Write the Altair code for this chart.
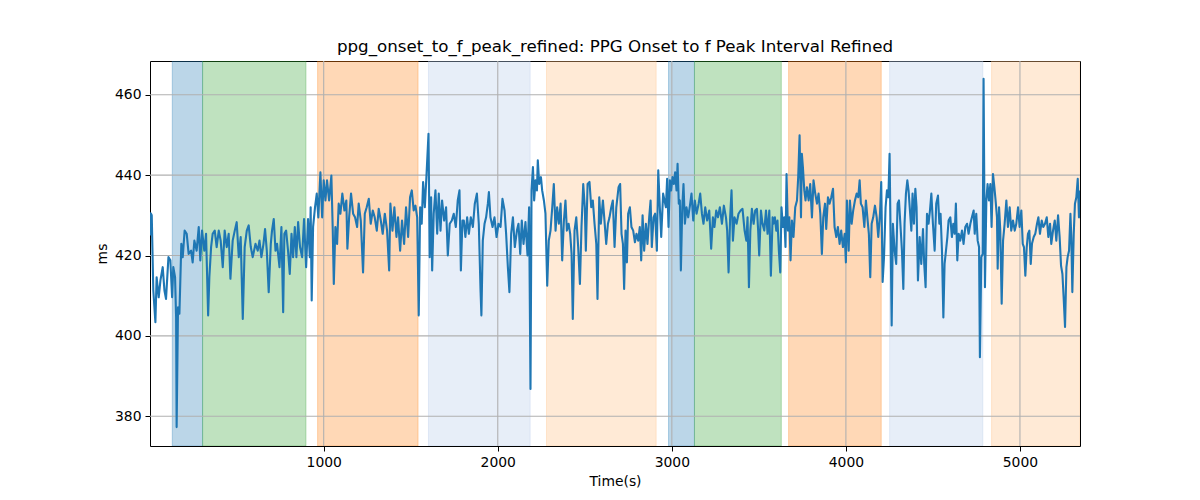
import altair as alt
import pandas as pd

# ---- signal (time in s, interval in ms) ----
seg1 = [(2,425),(6,430.5),(12,430),(21,411.3),(33,403.4),(40,414.6),(52,409.6),(62,413.8),(75,417.1),(85,411.3),
        (94,409.2),(108,419.6),(119,418.8),(129,409.6),(136,417.1),(146,414.6),(152,404.6),(155,377.3),(163,407.1),(171,405.5),
        (182,422.9),(190,419.6),(201,426.2),(213,425.4),(224,420.4),(238,421.2),(247,418.3),(257,423.7),(270,421.2),(282,427.1),
        (291,418.8),(301,426.2),(314,421.2),(324,425.4),(336,405.1),(343,414.6),(353,422.1),(362,425.4),(374,426.2),(385,422.1),
        (397,426.2),(408,423.7),(420,417.1),(431,426.2),(443,422.1),(454,425.4),(464,414.2),(477,423.7),(489,426.2),(500,428.3),
        (512,419.6),(523,424.6),(535,404.2),(546,422.1),(558,426.2),(569,427.5),(581,422.1),(592,419.6),(608,422.9),(621,421.2),
        (631,423.7),(642,419.6),(654,422.9),(663,426.6),(673,421.2),(684,410.9),(696,422.9),(703,426.2),(713,429.1),(723,421.2),
        (732,422.9),(746,417.1),(757,427.1),(767,405.9),(774,425.4),(784,426.2),(795,421.2),(805,415.4),(815,425.4),(824,419.6),
        (834,427.1),(843,419.6),(853,428.3),(864,422.1),(876,419.6),(887,429.1),(899,417.1),(910,429.1)]
seg2 = [(920,419.6),(925,432.0),(931,408.8),(939,427.1),(950,432.0),(960,435.4),(969,429.5),(981,440.7),(991,429.5),(1000,438.7),
        (1010,433.7),(1019,438.7),(1031,433.7),(1044,439.9),(1052,426.2),(1058,412.9),(1067,427.1),(1077,422.9),(1086,432.9),(1096,430.4),
        (1107,435.4),(1119,431.2),(1130,433.7),(1136,421.7),(1146,429.5),(1157,435.4),(1169,430.4),(1180,429.5),(1192,427.1),(1201,432.9),
        (1213,428.7),(1226,415.8),(1236,430.4),(1247,432.0),(1259,434.1),(1270,427.9),(1282,431.2),(1293,429.5),(1305,426.2),(1316,431.6),
        (1328,428.7),(1339,425.4),(1351,430.4),(1364,426.2),(1376,416.3),(1383,432.9),(1395,426.2),(1406,432.0),(1418,424.6),(1427,429.5),
        (1439,421.2),(1450,428.7),(1462,422.9),(1473,432.0),(1485,424.6),(1496,434.5),(1506,436.2),(1517,431.2),(1527,432.4),(1537,429.5),
        (1546,405.1),(1554,432.0),(1563,427.9),(1571,438.3),(1581,432.0),(1590,439.5),(1602,450.3),(1609,419.6),(1617,434.5),(1623,416.3),
        (1632,430.4),(1642,436.2),(1652,425.4),(1661,435.4),(1671,426.2),(1680,433.7),(1692,428.7),(1703,432.0),(1713,420.0),(1724,427.9),
        (1736,428.7),(1747,430.4),(1759,427.1),(1770,433.7),(1780,436.2),(1788,416.3),(1797,428.7)]
seg3 = [(1805,428.7),(1814,424.6),(1824,429.5),(1834,425.4),(1845,429.5),(1857,427.1),(1868,432.9),(1880,435.4),(1891,427.9),(1901,411.3),
        (1906,405.1),(1914,423.7),(1924,427.9),(1933,429.5),(1943,432.9),(1949,435.8),(1958,429.5),(1970,427.1),(1981,429.5),(1993,424.6),
        (2004,427.9),(2016,427.1),(2027,434.1),(2039,431.2),(2048,425.4),(2058,417.1),(2067,410.9),(2077,425.4),(2087,429.5),(2098,422.1),
        (2110,426.2),(2119,427.9),(2129,420.4),(2138,428.7),(2148,422.9),(2159,428.3),(2171,420.0),(2180,432.0),(2188,386.8),(2194,436.2),
        (2202,442.0),(2209,433.7),(2217,438.7),(2225,436.2),(2230,443.7),(2238,437.8),(2248,439.5),(2255,436.2),(2265,433.7),(2274,430.4),
        (2284,412.5),(2293,423.7),(2303,426.2),(2313,432.0),(2322,437.8),(2332,426.2),(2341,432.0),(2351,427.9),(2361,432.9),(2370,418.8),
        (2380,428.7),(2389,433.7),(2397,426.2),(2407,427.9),(2416,425.4),(2424,420.4),(2431,404.2),(2441,426.2),(2451,429.5),(2462,422.1),
        (2472,412.9),(2481,427.1),(2491,437.8),(2500,432.0),(2506,421.2),(2516,437.8),(2527,438.3),(2537,432.0),(2546,433.7),(2556,427.9),
        (2566,422.9),(2573,409.2),(2583,434.5),(2592,427.9),(2604,433.7),(2613,428.7),(2623,422.9),(2633,427.9),(2642,429.5),(2652,432.0),
        (2661,433.7),(2671,422.1),(2681,432.0)]
seg4 = [(2694,437.0),(2703,437.8),(2711,425.4),(2719,422.9),(2726,411.7),(2734,426.2),(2742,418.3),(2749,430.4),(2759,432.0),(2768,427.1),
        (2778,426.2),(2788,423.3),(2797,425.4),(2807,423.7),(2816,427.1),(2824,418.8),(2832,430.0),(2841,421.2),(2851,427.9),(2860,422.9),
        (2870,429.5),(2878,433.7),(2885,422.1),(2895,429.5),(2904,430.4),(2914,421.2),(2922,441.2),(2931,432.0),(2939,424.6),(2950,435.4),
        (2958,433.7),(2966,432.0),(2973,439.1),(2981,427.1),(2989,438.7),(2996,436.2),(3004,439.5),(3012,437.8),(3019,440.7),(3027,436.2),
        (3033,442.8),(3040,432.9),(3046,433.7),(3052,416.3),(3060,432.0),(3067,437.8),(3075,427.9),(3084,432.0),(3094,429.5),(3104,432.4),
        (3113,435.4),(3123,428.7),(3132,433.7),(3142,430.4),(3154,432.9),(3163,435.4),(3173,430.4),(3182,427.9),(3192,432.0),(3203,428.7),
        (3215,431.2),(3226,421.7),(3236,429.5),(3245,427.1),(3255,431.2),(3265,429.5),(3276,432.0),(3288,427.9),(3299,432.4),(3311,429.5),
        (3318,426.2),(3326,415.8),(3335,429.5),(3343,436.2),(3351,423.7),(3360,429.5),(3372,427.9),(3383,430.4),(3395,431.2),(3406,431.6),
        (3418,426.2),(3428,423.7),(3435,429.5),(3443,412.1),(3451,426.2),(3460,431.6),(3470,427.9),(3479,431.2),(3489,431.6),(3496,426.2),
        (3502,420.0),(3512,431.2),(3521,427.9),(3531,426.2),(3541,431.2),(3550,425.4),(3560,431.2),(3569,415.0),(3579,429.5)]
seg5 = [(3584,427.9),(3592,429.5),(3600,426.2),(3607,428.7),(3615,421.2),(3623,415.8),(3630,432.0),(3638,427.1),(3646,429.5),(3653,422.1),
        (3659,440.3),(3667,426.2),(3675,429.5),(3682,418.8),(3690,428.7),(3699,424.6),(3709,432.0),(3719,433.7),(3726,439.5),(3734,449.9),
        (3742,429.5),(3747,445.3),(3753,442.0),(3761,436.2),(3768,433.7),(3776,437.0),(3786,433.7),(3795,437.8),(3805,429.5),(3814,438.7),
        (3824,435.4),(3834,432.9),(3843,435.4),(3853,430.4),(3862,420.4),(3870,429.5),(3880,432.9),(3887,426.6),(3897,434.5),(3906,432.9),
        (3916,434.5),(3926,436.6),(3935,427.1),(3945,424.6),(3954,427.1),(3964,422.9),(3973,426.2),(3983,422.1),(3993,425.4),(4000,418.3),
        (4006,433.7),(4016,421.2),(4023,433.7),(4033,427.9),(4042,431.2),(4052,433.7),(4062,435.4),(4071,434.5),(4079,438.7),(4086,432.9),
        (4096,432.0),(4106,427.1),(4115,433.7),(4125,428.7),(4132,425.4),(4140,414.6),(4148,427.9),(4157,429.5),(4167,432.4),(4177,429.5),
        (4186,424.6),(4196,430.4),(4203,438.3),(4211,413.4),(4219,419.6),(4228,432.0),(4236,436.2),(4244,434.5),(4251,445.3),(4257,424.6),
        (4263,402.6),(4270,427.9),(4280,421.2),(4289,417.9),(4297,432.9),(4305,433.7),(4313,427.9),(4322,421.2),(4330,411.7),(4337,427.9),
        (4345,435.4),(4353,438.7),(4360,436.2),(4368,431.2),(4376,426.2),(4383,435.4),(4391,427.9),(4399,436.6),(4406,432.0),(4414,413.8),
        (4424,424.6),(4433,417.9),(4443,426.6),(4450,417.9),(4458,412.1),(4466,430.4)]
seg6 = [(4475,427.9),(4483,431.2),(4491,435.4),(4500,427.9),(4510,421.2),(4519,432.9),(4529,434.9),(4537,427.9),(4544,430.4),(4552,421.2),
        (4560,404.6),(4567,417.9),(4575,421.2),(4583,424.6),(4590,428.7),(4600,429.5),(4609,424.6),(4617,427.9),(4625,425.4),(4632,432.9),
        (4640,418.8),(4648,425.4),(4657,423.7),(4667,426.2),(4676,422.9),(4686,427.1),(4696,427.9),(4705,425.4),(4715,427.9),(4724,429.5),
        (4734,431.2),(4740,425.4),(4749,430.4),(4757,423.7),(4765,422.1),(4770,394.7),(4778,419.6),(4786,420.4),(4791,464.0),(4799,412.1),
        (4807,433.7),(4814,437.8),(4822,433.7),(4830,437.8),(4837,427.1),(4845,440.3),(4853,437.0),(4860,433.7),(4868,429.5),(4872,416.7),
        (4880,432.0),(4887,426.2),(4895,408.0),(4903,423.7),(4912,427.9),(4922,433.7),(4931,427.1),(4941,432.0),(4950,426.2),(4960,428.7),
        (4970,426.2),(4979,427.9),(4989,432.0),(4998,427.1),(5008,431.2),(5016,422.9),(5023,422.1),(5031,415.0),(5039,422.1),(5046,425.4),
        (5054,426.2),(5062,417.9),(5069,422.9),(5079,424.6),(5088,425.4),(5098,427.9),(5106,429.5),(5115,425.4),(5125,428.7),(5134,427.1),
        (5144,427.9),(5154,429.5),(5163,424.6),(5173,427.9),(5180,422.9),(5190,426.2),(5200,428.7),(5209,423.7),(5219,430.0),(5228,424.6),
        (5236,417.5),(5244,415.4),(5251,409.6),(5259,402.2),(5267,417.1),(5274,419.6),(5282,421.2),(5290,430.4),(5295,424.6),(5301,410.9),
        (5309,425.4),(5316,432.9),(5324,434.5),(5332,439.1),(5339,429.5),(5345,436.2)]

# ---- shaded segments ----
band_start = [130, 304, 965, 1602, 2280, 2981, 3130, 3671, 4251, 4837]
band_end = [304, 898, 1542, 2186, 2910, 3130, 3629, 4203, 4787, 5345]
band_phase = ["p1", "p2", "p3", "p4", "p5", "p1", "p2", "p3", "p4", "p5"]

x_ticks = [1000, 2000, 3000, 4000, 5000]
y_ticks = [380, 400, 420, 440, 460]

# ---- styling ----
phase_domain = ["p1", "p2", "p3", "p4", "p5"]
phase_colors = ["#1f77b4", "#2ca02c", "#ff7f0e", "#aec7e8", "#ffbb78"]
X_DOMAIN = [2, 5345]
Y_DOMAIN = [372.6, 468.4]
W, H = 930, 385
FONT = "DejaVu Sans"

line_df = pd.DataFrame(seg1 + seg2 + seg3 + seg4 + seg5 + seg6, columns=["t", "ms"])
band_df = pd.DataFrame({"t": band_start, "t_end": band_end, "phase": band_phase})
xgrid_df = pd.DataFrame({"t": x_ticks})
ygrid_df = pd.DataFrame({"ms": y_ticks})

xs = alt.Scale(domain=X_DOMAIN, nice=False, zero=False)
ys = alt.Scale(domain=Y_DOMAIN, nice=False, zero=False)
x_axis = alt.Axis(title="Time(s)", values=x_ticks, format="d", labelPadding=4, titlePadding=6)
y_axis = alt.Axis(title="ms", values=y_ticks, format="d", labelPadding=4, titlePadding=5)
cscale = alt.Scale(domain=phase_domain, range=phase_colors)

bands = alt.Chart(band_df).mark_rect(fillOpacity=0.3, strokeOpacity=0.3, strokeWidth=1, clip=True).encode(
    x=alt.X("t:Q", scale=xs, axis=x_axis),
    x2="t_end:Q",
    y=alt.value(0),
    y2=alt.value(H),
    fill=alt.Fill("phase:N", scale=cscale, legend=None),
    stroke=alt.Stroke("phase:N", scale=cscale, legend=None),
)

vgrid = alt.Chart(xgrid_df).mark_rule(color="#b0b0b0", strokeWidth=1.1).encode(
    x=alt.X("t:Q", scale=xs, axis=x_axis),
)
hgrid = alt.Chart(ygrid_df).mark_rule(color="#b0b0b0", strokeWidth=1.1).encode(
    y=alt.Y("ms:Q", scale=ys, axis=y_axis),
)

line = alt.Chart(line_df).mark_line(color="#1f77b4", strokeWidth=2.1, strokeJoin="round", clip=True).encode(
    x=alt.X("t:Q", scale=xs, axis=x_axis),
    y=alt.Y("ms:Q", scale=ys, axis=y_axis),
    order="t:Q",
)

chart = alt.layer(bands, vgrid, hgrid, line).properties(
    width=W,
    height=H,
    title=alt.TitleParams(
        "ppg_onset_to_f_peak_refined: PPG Onset to f Peak Interval Refined",
        font=FONT, fontSize=16.7, fontWeight="normal", color="black",
        anchor="middle", baseline="bottom", offset=-12,
    ),
    autosize=alt.AutoSizeParams(type="none"),
    padding={"left": 142, "top": 53, "right": 112, "bottom": 54},
).configure_view(
    stroke="black", strokeWidth=1
).configure_axis(
    grid=False, domain=False,
    tickColor="black", tickSize=5, tickWidth=1,
    labelColor="black", labelFont=FONT, labelFontSize=13.9,
    titleColor="black", titleFont=FONT, titleFontSize=13.9, titleFontWeight="normal",
)

chart.save("out.html", embed_options={"renderer": "svg", "actions": False})
